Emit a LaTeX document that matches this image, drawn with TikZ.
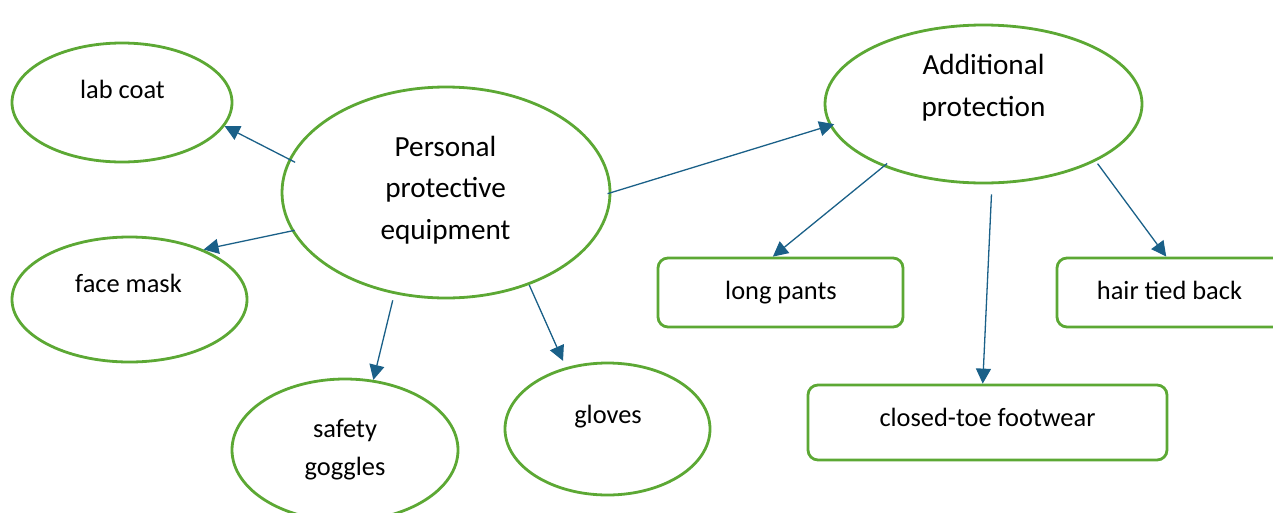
\documentclass[tikz,border=0pt]{standalone}
\usepackage{fontspec}
\setmainfont{Carlito}
\usetikzlibrary{arrows.meta,shapes.geometric}
\definecolor{ovalgreen}{RGB}{92,168,52}
\definecolor{linkblue}{RGB}{26,96,136}
\tikzset{
		oval/.style = {ellipse, draw=ovalgreen, line width=2.8pt, inner sep=0pt},
		box/.style  = {rectangle, draw=ovalgreen, line width=2.8pt, rounded corners=10pt, inner sep=0pt},
		txt/.style  = {anchor=base, inner sep=0pt, align=center,
			font=\fontsize{26.4}{38}\selectfont},
		big/.style  = {txt, font=\fontsize{29.2}{41.5}\selectfont},
		link/.style = {draw=linkblue, line width=1.3pt,
			-{Triangle[length=15pt,width=15pt]}}
	}

\begin{document}
\begin{tikzpicture}[x=1pt,y=-1pt]
		\useasboundingbox (0,0) rectangle (1273,512);
		% the two hubs (text nodes sit on their last baseline)
		\node[oval, minimum width=328pt, minimum height=211pt] (ppe) at (446,192.5) {};
		\node[big] (ppetxt) at (445.5,239) {Personal\\protective\\equipment};
		\node[oval, minimum width=317pt, minimum height=158pt] (add) at (983.5,104) {};
		\node[big] (addtxt) at (983.5,116) {Additional\\protection};
		% items of personal protective equipment
		\node[oval, minimum width=220pt, minimum height=119pt] (lab) at (122,102.5) {};
		\node[txt] (labtxt) at (122.5,98) {lab coat};
		\node[oval, minimum width=235pt, minimum height=125pt] (mask) at (129.5,299.5) {};
		\node[txt] (masktxt) at (128.5,292) {face mask};
		\node[oval, minimum width=226pt, minimum height=142pt] (gog) at (345,450) {};
		\node[txt] (gogtxt) at (345,475) {safety\\goggles};
		\node[oval, minimum width=205pt, minimum height=132pt] (glo) at (607.5,429) {};
		\node[txt] (glotxt) at (608,423) {gloves};
		% additional protection
		\node[box, minimum width=245pt, minimum height=69pt] (pants) at (780.5,292.5) {};
		\node[txt] (pantstxt) at (781,299) {long pants};
		\node[box, minimum width=226pt, minimum height=69pt] (hair) at (1170,292.5) {};
		\node[txt] (hairtxt) at (1169.5,299) {hair tied back};
		\node[box, minimum width=359pt, minimum height=75pt] (shoe) at (987.5,422.5) {};
		\node[txt] (shoetxt) at (987.5,426) {closed-toe footwear};
		% connectors
		\draw[link, shorten <=-7pt] (ppe.168.9) -- (lab.-13.8);
		\draw[link, shorten <=-3pt] (ppe.194) -- (mask.34);
		\draw[link, shorten <=6.5pt] (ppe.243.8) -- (gog.68);
		\draw[link, shorten >=7pt] (ppe.-48.8) -- (glo.124);
		\draw[link, shorten <=-4pt, shorten >=-5pt] (ppe.0) -- (add.188.6);
		\draw[link, shorten <=-5pt] (add.212.4) -- (pants.102);
		\draw[link, shorten <=10pt] (add.-84) -- (shoe.97);
		\draw[link, shorten <=3pt] (add.-27.5) -- (hair.96.6);
	\end{tikzpicture}
\end{document}
